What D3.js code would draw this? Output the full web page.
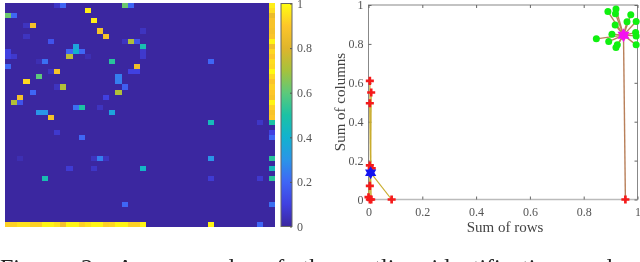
<!DOCTYPE html>
<html>
<head>
<meta charset="utf-8">
<script src="https://cdn.jsdelivr.net/npm/d3@7"></script>
<style>
  html, body { margin: 0; padding: 0; background: #fff; overflow: hidden; }
  svg { display: block; filter: blur(0.35px); }
  text { font-family: "Liberation Serif", serif; }
</style>
</head>
<body>
<svg width="640" height="262"></svg>
<script>
// matrix cells that are not background: [row, col, value]
const heatCells = [
  [0,8,.06],[0,9,.2],[0,19,.62],[0,20,.2],[1,13,.97],[2,0,.62],[2,1,.2],[3,14,.97],
  [4,3,.05],[4,4,.87],[5,15,.87],[5,22,.05],[6,3,.05],[6,16,.87],[7,7,.15],[7,19,.05],
  [7,20,.72],[7,21,.15],[8,11,.35],[8,22,.47],[9,0,.1],[9,10,.2],[9,11,.4],[9,12,.2],
  [9,22,.07],[10,0,.1],[10,1,.07],[10,10,.74],[10,13,.03],[10,22,.07],[11,5,.03],[11,6,.22],
  [11,17,.52],[11,33,.2],[12,0,.2],[12,21,.85],[13,7,.05],[13,8,.88],[13,20,.1],[13,21,.1],
  [14,5,.6],[14,18,.25],[15,3,.93],[15,18,.25],[16,8,.05],[16,9,.72],[16,19,.18],[17,4,.2],
  [17,18,.72],[18,2,.87],[18,16,.1],[19,1,.72],[19,2,.15],[20,11,.22],[20,12,.5],[20,15,.05],
  [21,5,.3],[21,6,.3],[21,17,.35],[22,7,.87],[23,33,.45],[23,41,.06],[25,8,.07],[26,12,.2],
  [30,2,.03],[30,14,.05],[30,15,.25],[30,16,.05],[30,33,.3],[32,10,.08],[32,14,.06],[32,22,.42],
  [34,6,.47],[34,33,.08],[34,41,.07],[39,19,.2],[43,33,.98],[43,41,.2]
];
// last column, top to bottom
const lastColRows = [0,1,2,3,4,5,6,7,8,9,10,11,12,13,14,15,16,17,18,19,20,21,22,23,25,26,30,32,34,39];
const lastColVals = [.97,.94,.84,.88,.88,.87,.89,.98,.86,.93,.9,.94,.93,.99,.93,.89,.92,.9,.88,.98,.92,.88,.9,.5,.1,.2,.52,.45,.52,.22];
// bottom row, left to right
const bottomVals = [.92,.92,.95,.95,.92,.92,.98,.98,.95,.87,.98,.98,.92,.95,.98,.98,.92,.93,.98,.98,.92,.92,.98];
const matrixSize = 44;

const cmapStops = ["#3b27a0","#4040e0","#3f66f5","#2a95e8","#12b2cf","#1cc2a4","#5dc97a","#a6c23c","#dfb52c","#fdc62a","#ffff10"];
const cbarTicks = [0, 0.2, 0.4, 0.6, 0.8, 1];
const scatterTicks = [0, 0.2, 0.4, 0.6, 0.8, 1];

// sum of rows, sum of columns
const redPts = [[.005,.61],[.01,.55],[.005,.495],[.005,.175],[.012,.16],[.005,.07],[.005,0],[.01,0],[0,.012],[.086,0],[.955,0]];
const greenPts = [[.89,.966],[.92,.979],[.918,.955],[.975,.95],[.995,.915],[.917,.897],[.961,.914],[.993,.858],[.995,.841],
  [.995,.795],[.905,.85],[.847,.826],[.893,.812],[.92,.781],[.925,.795]];
const blueCentre = [.008, .138];
const magentaCentre = [.948, .845];
const redLinks = [[.005,.61],[.01,.55],[.005,.495],[.005,.175],[.012,.16],[.005,.07],[.005,0],[.01,0],[0,.012],[.086,0]];

const captionWords = ["Figure","2:","An","example","of","the","outlier","identification","and"];

const svg = d3.select("svg");

const color = d3.scaleLinear()
  .domain(d3.range(cmapStops.length).map(i => i / (cmapStops.length - 1)))
  .range(cmapStops);

// heat map
const hx = d3.scaleBand().domain(d3.range(matrixSize)).range([5, 275]);
const hy = d3.scaleBand().domain(d3.range(matrixSize)).range([3, 227]);
const heat = svg.append("g").attr("shape-rendering", "crispEdges");
heat.append("rect")
  .attr("x", hx.range()[0]).attr("y", hy.range()[0])
  .attr("width", 270).attr("height", 224)
  .attr("fill", color(0));

const allCells = heatCells
  .concat(lastColRows.map((r, i) => [r, matrixSize - 1, lastColVals[i]]))
  .concat(bottomVals.map((v, c) => [matrixSize - 1, c, v]));

heat.selectAll("rect.cell").data(allCells).join("rect")
  .attr("class", "cell")
  .attr("x", d => hx(d[1])).attr("y", d => hy(d[0]))
  .attr("width", hx.bandwidth()).attr("height", hy.bandwidth())
  .attr("fill", d => color(d[2]));

// colour bar
const cy = d3.scaleLinear().domain([0, 1]).range([226.5, 3.5]);
const grad = svg.append("defs").append("linearGradient")
  .attr("id", "cbar").attr("x1", 0).attr("x2", 0).attr("y1", 1).attr("y2", 0);
cmapStops.forEach((c, i) => grad.append("stop").attr("offset", i / (cmapStops.length - 1)).attr("stop-color", c));
svg.append("rect").attr("x", 281).attr("y", 3.5).attr("width", 11).attr("height", 223)
  .attr("fill", "url(#cbar)").attr("stroke", "#666").attr("stroke-width", 1);
const cbarAxis = svg.append("g").attr("transform", "translate(292,0)")
  .call(d3.axisRight(cy).tickValues(cbarTicks).tickFormat(d3.format("~g")).tickSize(-2).tickPadding(5));
cbarAxis.select(".domain").remove();
cbarAxis.selectAll("line").attr("stroke", "#555");
cbarAxis.selectAll("text").attr("font-size", 12).attr("fill", "#555")
  .style("font-family", '"Liberation Serif", serif');

// scatter
const sx = d3.scaleLinear().domain([0, 1]).range([368.5, 637.5]);
const sy = d3.scaleLinear().domain([0, 1]).range([199.5, 5]);
const plot = svg.append("g");

plot.append("rect").attr("x", sx(0)).attr("y", sy(1))
  .attr("width", sx(1) - sx(0)).attr("height", sy(0) - sy(1))
  .attr("fill", "none").attr("stroke", "#888").attr("stroke-width", 1);
plot.append("line").attr("x1", sx(0)).attr("x2", sx(1)).attr("y1", sy(0)).attr("y2", sy(0))
  .attr("stroke", "#bbb").attr("stroke-width", 1.5);

const axisBottom = plot.append("g").attr("transform", `translate(0,${sy(0)})`)
  .call(d3.axisBottom(sx).tickValues(scatterTicks).tickFormat(d3.format("~g")).tickSize(-3).tickPadding(8));
const axisLeft = plot.append("g").attr("transform", `translate(${sx(0)},0)`)
  .call(d3.axisLeft(sy).tickValues(scatterTicks).tickFormat(d3.format("~g")).tickSize(-3).tickPadding(5));
const axisTop = plot.append("g").attr("transform", `translate(0,${sy(1)})`)
  .call(d3.axisTop(sx).tickValues(scatterTicks).tickFormat("").tickSize(-3));
const axisRight = plot.append("g").attr("transform", `translate(${sx(1)},0)`)
  .call(d3.axisRight(sy).tickValues(scatterTicks).tickFormat("").tickSize(-3));
[axisBottom, axisLeft, axisTop, axisRight].forEach(a => {
  a.select(".domain").remove();
  a.selectAll("line").attr("stroke", "#666");
  a.selectAll("text").attr("font-size", 12).attr("fill", "#555")
    .style("font-family", '"Liberation Serif", serif');
});

const links = plot.append("g").attr("fill", "none");
links.selectAll("line.gold").data(redLinks).join("line")
  .attr("class", "gold")
  .attr("x1", d => sx(d[0])).attr("y1", d => sy(d[1]))
  .attr("x2", sx(blueCentre[0])).attr("y2", sy(blueCentre[1]))
  .attr("stroke", "#c9ad2e").attr("stroke-width", 1.2);
links.selectAll("line.brown").data(greenPts.concat([[.955, 0]])).join("line")
  .attr("class", "brown")
  .attr("x1", d => sx(d[0])).attr("y1", d => sy(d[1]))
  .attr("x2", sx(magentaCentre[0])).attr("y2", sy(magentaCentre[1]))
  .attr("stroke", "#b9805a").attr("stroke-width", 1.4);

plot.selectAll("circle.green").data(greenPts).join("circle")
  .attr("class", "green")
  .attr("cx", d => sx(d[0])).attr("cy", d => sy(d[1]))
  .attr("r", 3.5).attr("fill", "#10f010");

const cross = d3.symbol().type(d3.symbolCross).size(36);
plot.selectAll("path.red").data(redPts).join("path")
  .attr("class", "red")
  .attr("transform", d => `translate(${sx(d[0])},${sy(d[1])})`)
  .attr("d", cross).attr("fill", "#f51a1a");

// six pointed star, same as the matlab hexagram marker
function hexagram(r) {
  const tri = a => d3.range(3).map(i => {
    const t = a + i * 2 * Math.PI / 3;
    return (i ? "L" : "M") + (r * Math.sin(t)) + "," + (-r * Math.cos(t));
  }).join("") + "Z";
  return tri(0) + tri(Math.PI);
}
[[blueCentre, "#1414f0", 6.5], [magentaCentre, "#f510f0", 7]].forEach(([p, c, r]) => {
  plot.append("path")
    .attr("transform", `translate(${sx(p[0])},${sy(p[1])})`)
    .attr("d", hexagram(r)).attr("fill", c);
});

plot.append("text").attr("x", 505).attr("y", 232)
  .attr("text-anchor", "middle").attr("font-size", 15).attr("fill", "#444")
  .text("Sum of rows");
plot.append("text").attr("transform", "translate(345,102) rotate(-90)")
  .attr("text-anchor", "middle").attr("font-size", 15).attr("fill", "#444")
  .text("Sum of columns");

// caption is cut off by the bottom of the picture
svg.append("text").attr("x", 0).attr("y", 274.5)
  .attr("font-size", 24).attr("fill", "#222")
  .attr("word-spacing", 12.4)
  .text(captionWords.join(" "));
</script>
</body>
</html>
